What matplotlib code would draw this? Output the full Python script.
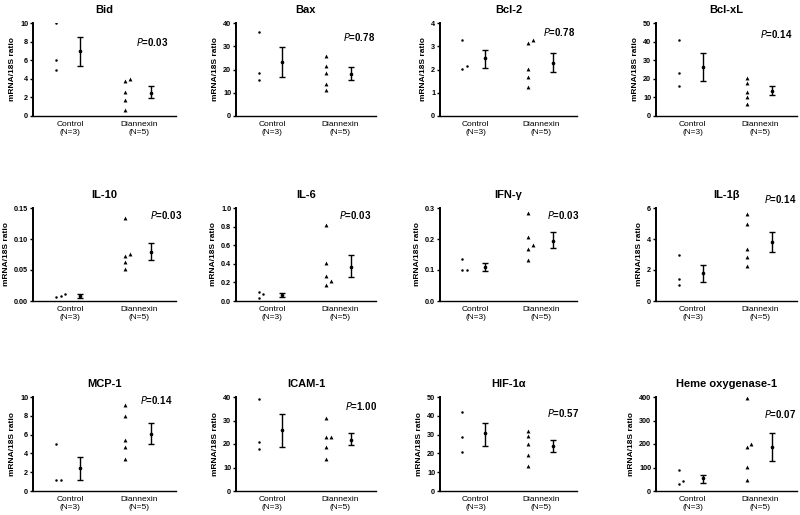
import numpy as np
import matplotlib
matplotlib.use("Agg")
import matplotlib.pyplot as plt

plt.rcParams['font.family'] = ['Liberation Sans', 'DejaVu Sans']

# panel titles, left to right, top to bottom
titles = ["Bid", "Bax", "Bcl-2", "Bcl-xL",
          "IL-10", "IL-6", "IFN-γ", "IL-1β",
          "MCP-1", "ICAM-1", "HIF-1α", "Heme oxygenase-1"]

groups = ["Control\n(N=3)", "Diannexin\n(N=5)"]

control = [
    [10.0, 6.0, 4.96],
    [36.3, 18.4, 15.6],
    [3.26, 2.01, 2.17],
    [41.1, 22.9, 15.9],
    [0.0118, 0.0059, 0.0086],
    [0.100, 0.079, 0.036],
    [0.136, 0.0996, 0.0996],
    [2.96, 1.41, 1.03],
    [5.02, 1.17, 1.17],
    [39.3, 20.8, 17.8],
    [41.8, 28.6, 20.5],
    [89.7, 29.9, 42.7],
]
diannexin = [
    [3.96, 3.79, 2.57, 1.68, 0.64],
    [25.7, 21.7, 18.4, 13.9, 11.0],
    [3.26, 3.13, 2.01, 1.66, 1.26],
    [20.5, 17.7, 13.0, 10.2, 6.6],
    [0.1334, 0.0729, 0.0761, 0.0632, 0.0509],
    [0.814, 0.407, 0.268, 0.210, 0.168],
    [0.283, 0.207, 0.181, 0.167, 0.132],
    [5.61, 4.95, 3.34, 2.85, 2.25],
    [9.11, 7.94, 5.44, 4.73, 3.38],
    [31.2, 22.9, 22.9, 18.9, 13.7],
    [32.0, 29.5, 24.9, 19.0, 13.5],
    [396.0, 186.5, 200.7, 104.0, 47.0],
]

# mean and error bar ends
ctrl_mean = [7.0, 23.4, 2.49, 26.6, 0.0086, 0.068, 0.110, 1.80, 2.46, 26.0, 30.7, 55.5]
ctrl_lo = [5.36, 16.6, 2.06, 18.9, 0.0054, 0.043, 0.0975, 1.20, 1.14, 18.9, 23.7, 35.6]
ctrl_hi = [8.46, 29.7, 2.86, 33.75, 0.0110, 0.089, 0.122, 2.31, 3.63, 32.6, 36.3, 69.8]
dian_mean = [2.50, 18.1, 2.29, 13.4, 0.0787, 0.364, 0.194, 3.79, 6.09, 21.8, 23.7, 186.5]
dian_lo = [1.90, 15.4, 1.89, 11.25, 0.0659, 0.257, 0.170, 3.19, 5.05, 19.4, 20.6, 126.7]
dian_hi = [3.20, 21.0, 2.69, 16.1, 0.0943, 0.493, 0.221, 4.46, 7.19, 24.8, 27.2, 246.0]

p_values = ["0.03", "0.78", "0.78", "0.14",
            "0.03", "0.03", "0.03", "0.14",
            "0.14", "1.00", "0.57", "0.07"]

y_ticks = [
    [0, 2, 4, 6, 8, 10],
    [0, 10, 20, 30, 40],
    [0, 1, 2, 3, 4],
    [0, 10, 20, 30, 40, 50],
    [0.00, 0.05, 0.10, 0.15],
    [0.0, 0.2, 0.4, 0.6, 0.8, 1.0],
    [0.0, 0.1, 0.2, 0.3],
    [0, 2, 4, 6],
    [0, 2, 4, 6, 8, 10],
    [0, 10, 20, 30, 40],
    [0, 10, 20, 30, 40, 50],
    [0, 100, 200, 300, 400],
]

# layout (pixels in an 800x515 figure)
W, H = 800, 515
col_px = [(33, 176), (236, 376), (440, 577), (656, 797)]
row_px = [(23, 116), (208, 301), (397, 491)]
p_pos = [(0.83, 0.80), (0.88, 0.85), (0.87, 0.90), (0.85, 0.88),
         (0.93, 0.92), (0.85, 0.92), (0.90, 0.92), (0.88, 1.10),
         (0.86, 0.97), (0.89, 0.90), (0.90, 0.83), (0.88, 0.82)]


def spread(values, ymax, step=0.065, frac=0.048):
    # shift points sideways when they would overlap, like GraphPad does
    order = np.argsort(values)
    placed = []
    offs = np.zeros(len(values))
    for i in order:
        slot = 0
        while any(s == slot and abs(values[i] - v) < frac * ymax for v, s in placed):
            slot += 1
        placed.append((values[i], slot))
        offs[i] = slot * step
    return offs


fig = plt.figure(figsize=(W / 100, H / 100), dpi=100)

for k, title in enumerate(titles):
    r, c = divmod(k, 4)
    x0, x1 = col_px[c]
    y0, y1 = row_px[r]
    ax = fig.add_axes([x0 / W, 1 - y1 / H, (x1 - x0) / W, (y1 - y0) / H])

    ymax = y_ticks[k][-1]
    cv = np.array(control[k])
    dv = np.array(diannexin[k])

    ax.plot(0.80 + spread(cv, ymax), cv, 'o', color='black', ms=1.8, mec='none')
    ax.plot(1.80 + spread(dv, ymax), dv, '^', color='black', ms=2.8, mec='none')

    for x, m, lo, hi in [(1.15, ctrl_mean[k], ctrl_lo[k], ctrl_hi[k]),
                         (2.17, dian_mean[k], dian_lo[k], dian_hi[k])]:
        ax.errorbar([x], [m], yerr=[[m - lo], [hi - m]], fmt='o', color='black',
                    ms=1.6, elinewidth=1.0, capsize=2.4, capthick=1.0)

    ax.set_xlim(0.46, 2.54)
    ax.set_ylim(0, ymax)
    ax.set_yticks(y_ticks[k])
    ax.set_xticks([1, 2])
    ax.set_xticklabels(groups, fontsize=6, linespacing=1.3)
    ax.tick_params(axis='x', length=0, pad=3.5)
    ax.tick_params(axis='y', length=2.5, width=1.0, labelsize=5.2, pad=1)
    for lab in ax.get_yticklabels():
        lab.set_fontweight('bold')
    for s in ['top', 'right']:
        ax.spines[s].set_visible(False)
    ax.spines['left'].set_linewidth(1.4)
    ax.spines['bottom'].set_linewidth(1.0)

    ax.set_title(title, fontsize=8, fontweight='bold', pad=7)
    ax.set_ylabel("mRNA/18S ratio", fontsize=6, fontweight='bold', labelpad=3)
    px, py = p_pos[k]
    ax.text(px, py, "$\\it{P}$=" + p_values[k], transform=ax.transAxes,
            ha='center', va='center', fontsize=7, fontweight='bold')

fig.savefig("out.png", dpi=100)
